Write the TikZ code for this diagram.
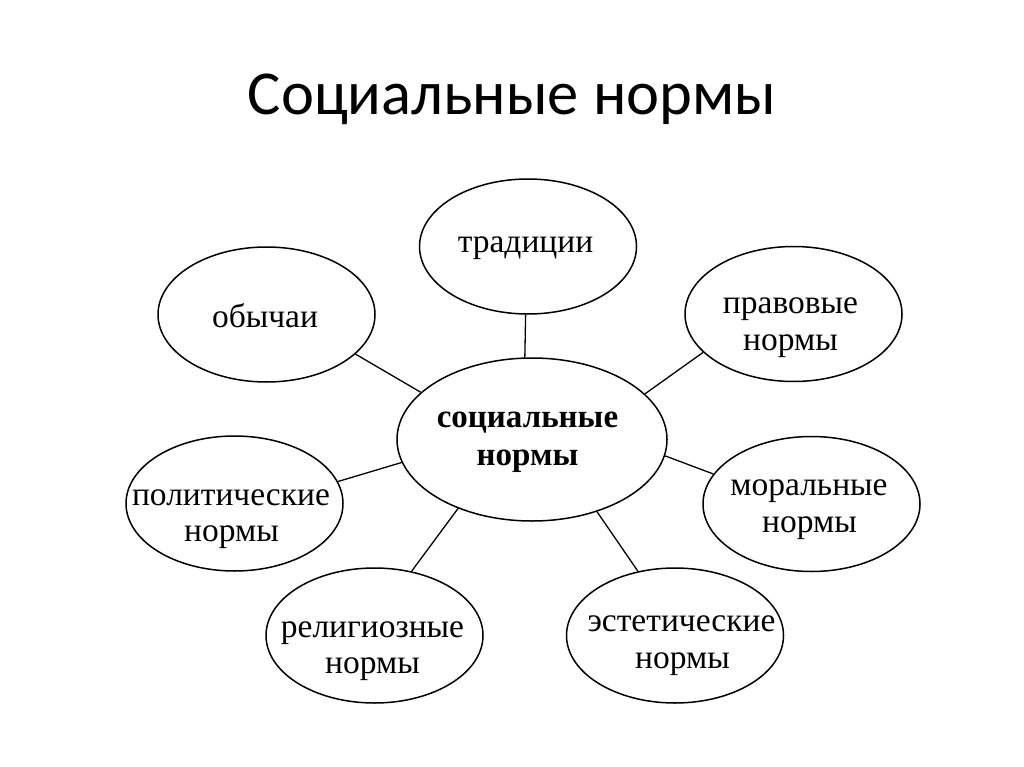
\documentclass[tikz,border=0pt]{standalone}
\usepackage{fontspec}
\setmainfont{Liberation Serif}
\newfontfamily\titlefont{Carlito}
\usetikzlibrary{shapes.geometric}
\begin{document}
\begin{tikzpicture}[x=1pt,y=-1pt,
  oval/.style={ellipse, draw, line width=1.5pt, fill=white, inner sep=0pt,
    minimum width=217pt, minimum height=135pt},
  hub/.style={oval, minimum width=270pt, minimum height=163pt},
  word/.style={anchor=base, inner sep=0pt, font=\fontsize{33.5}{37}\selectfont},
  hubword/.style={anchor=base, inner sep=0pt, font=\bfseries\fontsize{33}{38}\selectfont},
  link/.style={line width=1.3pt},
  heading/.style={anchor=base, inner sep=0pt, font=\titlefont\fontsize{62.5}{70}\selectfont}]
\useasboundingbox (0,0) rectangle (1024,767);
\fill[white] (0,0) rectangle (1024,767);
\node[heading] (title) at (512,115) {Социальные нормы};
% ellipses
\node[hub] (c) at (532,439.5) {};
\node[oval] (trad) at (528,246.5) {};
\node[oval] (obych) at (266.5,314.5) {};
\node[oval] (prav) at (793.5,314) {};
\node[oval] (polit) at (234.5,503.5) {};
\node[oval] (moral) at (811.5,504) {};
\node[oval] (relig) at (374.5,635.5) {};
\node[oval] (estet) at (675,635.5) {};
% texts
\node[hubword] (c1) at (527.5,427) {социальные};
\node[hubword] (c2) at (527.5,465) {нормы};
\node[word] (trad1) at (525.5,252) {традиции};
\node[word] (obych1) at (265,327) {обычаи};
\node[word] (prav1) at (790.5,313) {правовые};
\node[word] (prav2) at (790.5,350) {нормы};
\node[word] (polit1) at (231,505) {политические};
\node[word] (polit2) at (231.5,541) {нормы};
\node[word] (moral1) at (809,495) {моральные};
\node[word] (moral2) at (809.5,532) {нормы};
\node[word] (relig1) at (372.5,637) {религиозные};
\node[word] (relig2) at (372.5,673) {нормы};
\node[word] (estet1) at (681.5,631) {эстетические};
\node[word] (estet2) at (682.5,668) {нормы};
% connectors
\draw[link] (trad.-92) -- (c.95);
\draw[link] (obych.-24.6) -- (c.157.3);
\draw[link] (prav.203.3) -- (c.22.8);
\draw[link] (polit.12.8) -- (c.190.2);
\draw[link] (moral.163.1) -- (c.-7.9);
\draw[link] (relig.60.9) -- (c.-137.9);
\draw[link] (estet.120.1) -- (c.-48.6);
\end{tikzpicture}
\end{document}
